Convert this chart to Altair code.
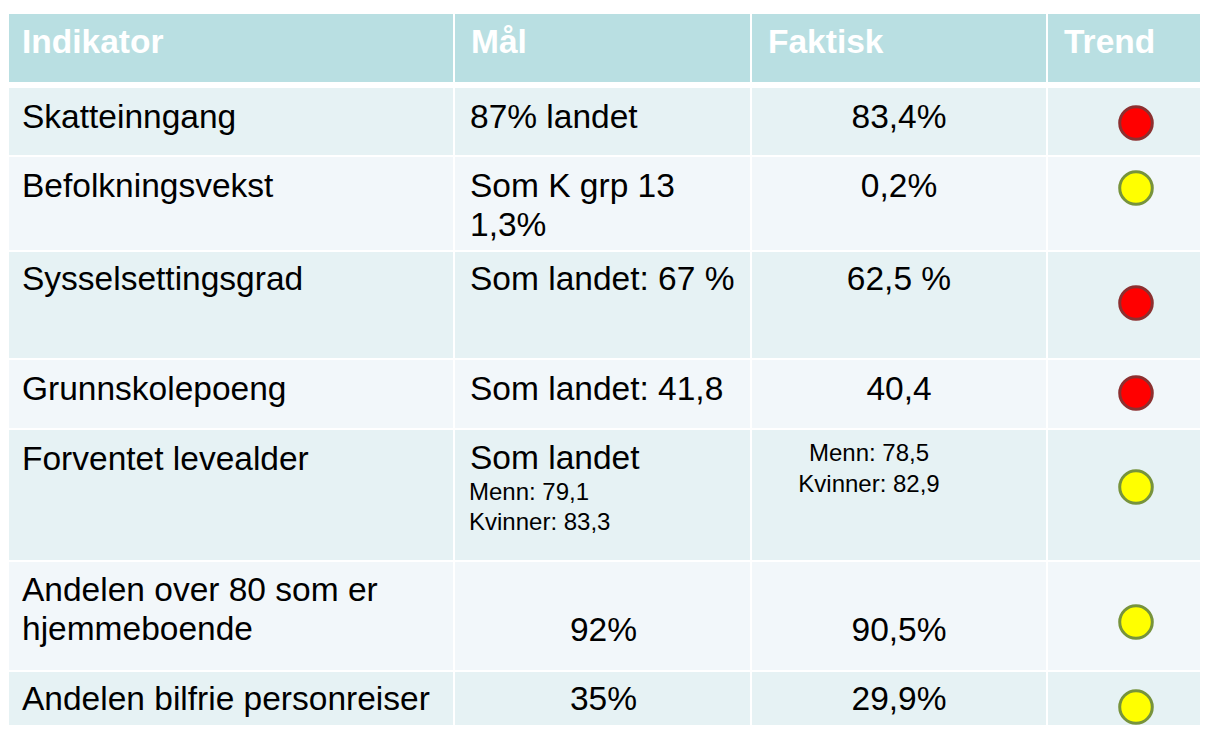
import altair as alt
import pandas as pd

# ---- table content ----
headers = ["Indikator", "Mål", "Faktisk", "Trend"]
indicators = ["Skatteinngang", "Befolkningsvekst", "Sysselsettingsgrad", "Grunnskolepoeng",
              "Forventet levealder", "Andelen over 80 som er\nhjemmeboende", "Andelen bilfrie personreiser"]
targets = ["87% landet", "Som K grp 13\n1,3%", "Som landet: 67 %", "Som landet: 41,8",
           "Som landet", "92%", "35%"]
target_notes = ["", "", "", "", "Menn: 79,1\nKvinner: 83,3", "", ""]
actuals = ["83,4%", "0,2%", "62,5 %", "40,4", "Menn: 78,5\nKvinner: 82,9", "90,5%", "29,9%"]
trends = ["rød", "gul", "rød", "rød", "gul", "gul", "gul"]

# ---- layout (pixels in page coordinates) ----
col_edges = [9, 454, 751, 1047, 1212]
header_band = (14, 82)
row_bands = [(88, 155), (157, 250), (252, 358), (360, 428), (430, 560), (562, 670), (672, 740)]
ind_base = [128, 197, 290, 400, 470, 601, 710]
tgt_base = [128, 197, 290, 400, 469, 641, 710]
tgt_center = [False, False, False, False, False, True, True]
note_base = [0, 0, 0, 0, 500, 0, 0]
act_base = [128, 197, 290, 400, 461, 641, 710]
act_small = [False, False, False, False, True, False, False]
trend_y = [123, 188, 303, 393, 487, 622, 707]

HEADER_BG = "#B9DFE2"
ROW_BG = ["#E6F2F4", "#F2F7FA"]
FILL = {"rød": "#FF0000", "gul": "#FFFF00"}
STROKE = {"rød": "#8C3030", "gul": "#77933C"}
FONT = "Liberation Sans"
BIG = 33.5
SMALL = 24

# background cells
cells = []
for c in range(4):
    x0, x1 = col_edges[c] + (1 if c else 0), col_edges[c + 1] - 1
    cells.append(dict(x=x0, x2=x1, y=header_band[0], y2=header_band[1], fill=HEADER_BG))
    for r, (t, b) in enumerate(row_bands):
        cells.append(dict(x=x0, x2=x1, y=t, y2=b, fill=ROW_BG[r % 2]))
cells = pd.DataFrame(cells)

head_txt = pd.DataFrame([dict(x=col_edges[c] + 13 + (4 if c else 0), y=53, text=h) for c, h in enumerate(headers)])

left_big, center_big, left_small, center_small = [], [], [], []
for r in range(len(indicators)):
    left_big.append(dict(x=22, y=ind_base[r], text=indicators[r]))
    if tgt_center[r]:
        center_big.append(dict(x=(col_edges[1] + col_edges[2]) / 2 + 1, y=tgt_base[r], text=targets[r]))
    else:
        left_big.append(dict(x=470, y=tgt_base[r], text=targets[r]))
    if target_notes[r]:
        left_small.append(dict(x=469, y=note_base[r], text=target_notes[r]))
    if act_small[r]:
        center_small.append(dict(x=869, y=act_base[r], text=actuals[r]))
    else:
        center_big.append(dict(x=899, y=act_base[r], text=actuals[r]))

trend_df = pd.DataFrame(dict(x=[1136] * len(trends), y=trend_y,
                             fill=[FILL[t] for t in trends], stroke=[STROKE[t] for t in trends], trend=trends))

W, H = 1192, 717
xs = alt.Scale(domain=[8, 8 + W], nice=False, zero=False)
ys = alt.Scale(domain=[8 + H, 8], nice=False, zero=False)
X = lambda f="x": alt.X(f + ":Q", scale=xs, axis=None)
Y = lambda f="y": alt.Y(f + ":Q", scale=ys, axis=None)

bg = alt.Chart(cells).mark_rect(clip=True).encode(
    x=X(), x2="x2:Q", y=Y(), y2="y2:Q", color=alt.Color("fill:N", scale=None))

def txt(df, align, size, lh, bold=False, color="#000000"):
    return alt.Chart(pd.DataFrame(df)).mark_text(
        align=align, baseline="alphabetic", font=FONT, fontSize=size, lineHeight=lh,
        lineBreak="\n", fontWeight="bold" if bold else "normal", color=color
    ).encode(x=X(), y=Y(), text="text:N")

layers = [
    bg,
    txt(head_txt, "left", BIG, 39, bold=True, color="#FFFFFF"),
    txt(left_big, "left", BIG, 39),
    txt(center_big, "center", BIG, 39),
    txt(left_small, "left", SMALL, 30),
    txt(center_small, "center", SMALL, 31),
    alt.Chart(trend_df).mark_point(shape="circle", filled=True, size=1060, strokeWidth=3, opacity=1).encode(
        x=X(), y=Y(), fill=alt.Fill("fill:N", scale=None), stroke=alt.Stroke("stroke:N", scale=None)),
]

chart = alt.layer(*layers).properties(width=W, height=H, padding=0, background="#FFFFFF").configure_view(strokeWidth=0)
chart.save("out.html", embed_options={"renderer": "svg", "actions": False})
